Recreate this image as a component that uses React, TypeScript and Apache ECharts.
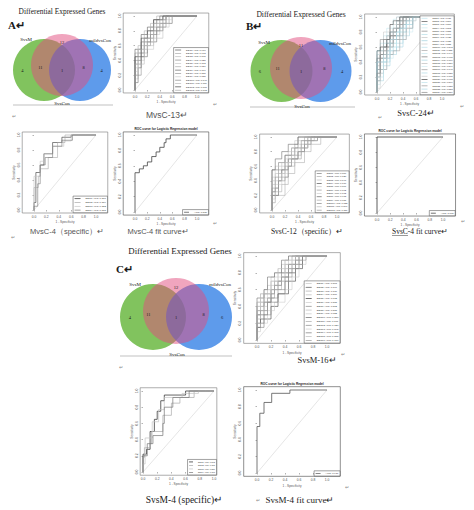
import React, { useEffect, useRef } from "react";
import * as echarts from "echarts";

type Pt = [number, number];

// ---------- DATA ----------
const TICKS = [0, 0.2, 0.4, 0.6, 0.8, 1];

// Venn diagrams: region counts [pinkOnly, greenOnly, green∩pink, center, pink∩blue, blueOnly]
const VENN_SETS = ["SvsM", "mildvsCon", "SvsCon"];
const VENN_A_COUNTS = ["12", "4", "11", "1", "8", "4"];
const VENN_B_COUNTS = ["11", "6", "11", "1", "8", "4"];
const VENN_C_COUNTS = ["12", "4", "11", "1", "8", "6"];

// ROC knots [1-specificity, sensitivity] (vertical step first, then horizontal)
const A1_CURVES: Pt[][] = [
  [[0, 0], [0.1, 0.55], [0.2, 0.75], [0.3, 0.85], [0.4, 0.95], [0.5, 1], [1, 1]],
  [[0, 0], [0.05, 0.45], [0.15, 0.6], [0.25, 0.8], [0.35, 0.9], [0.55, 1], [1, 1]],
  [[0, 0], [0.05, 0.3], [0.1, 0.5], [0.2, 0.65], [0.3, 0.75], [0.45, 0.9], [0.6, 1], [1, 1]],
  [[0, 0], [0.1, 0.2], [0.15, 0.45], [0.25, 0.6], [0.35, 0.8], [0.5, 0.95], [0.65, 1], [1, 1]],
  [[0, 0], [0.05, 0.15], [0.15, 0.4], [0.3, 0.55], [0.4, 0.75], [0.55, 0.85], [0.7, 1], [1, 1]],
  [[0, 0], [0.1, 0.35], [0.2, 0.5], [0.25, 0.7], [0.4, 0.85], [0.5, 0.9], [0.6, 1], [1, 1]],
  [[0, 0], [0.05, 0.1], [0.1, 0.3], [0.2, 0.45], [0.35, 0.65], [0.45, 0.8], [0.6, 0.9], [0.75, 1], [1, 1]],
  [[0, 0], [0.15, 0.5], [0.3, 0.7], [0.4, 0.8], [0.45, 0.9], [0.55, 1], [1, 1]],
  [[0, 0], [0.05, 0.25], [0.2, 0.55], [0.3, 0.65], [0.4, 0.85], [0.6, 0.95], [0.65, 1], [1, 1]],
  [[0, 0], [0.1, 0.4], [0.25, 0.65], [0.35, 0.75], [0.5, 0.85], [0.6, 1], [1, 1]],
  [[0, 0], [0.05, 0.2], [0.15, 0.35], [0.3, 0.6], [0.45, 0.7], [0.55, 0.9], [0.7, 1], [1, 1]],
  [[0, 0], [0.1, 0.45], [0.2, 0.7], [0.3, 0.8], [0.45, 0.95], [0.6, 1], [1, 1]],
  [[0, 0], [0.05, 0.35], [0.15, 0.55], [0.3, 0.7], [0.4, 0.9], [0.5, 0.95], [0.55, 1], [1, 1]],
];
const A2_CURVES: Pt[][] = [
  [[0, 0], [0.03, 0.1], [0.1, 0.5], [0.16, 0.6], [0.3, 0.75], [0.45, 0.9], [0.6, 0.97], [0.83, 1], [1, 1]],
  [[0, 0], [0.07, 0.3], [0.1, 0.45], [0.23, 0.55], [0.38, 0.7], [0.5, 0.9], [0.8, 1], [1, 1]],
  [[0, 0], [0.1, 0.45], [0.16, 0.65], [0.3, 0.75], [0.48, 0.85], [0.6, 0.92], [0.75, 1], [1, 1]],
  [[0, 0], [0.06, 0.05], [0.1, 0.35], [0.18, 0.6], [0.3, 0.7], [0.45, 0.85], [0.62, 0.93], [0.72, 1], [1, 1]],
];
const A3_CURVE: Pt[] = [[0, 0], [0.07, 0.51], [0.135, 0.56], [0.2, 0.6], [0.27, 0.65], [0.34, 0.72], [0.4, 0.78], [0.47, 0.84], [0.5, 0.9], [0.57, 0.95], [1, 1]];

const B1_CURVES: Pt[][] = [
  [[0, 0], [0.05, 0.55], [0.1, 0.65], [0.15, 0.75], [0.25, 0.85], [0.3, 0.97], [0.35, 1], [1, 1]],
  [[0, 0], [0.05, 0.3], [0.1, 0.5], [0.2, 0.6], [0.3, 0.75], [0.4, 0.85], [0.5, 1], [1, 1]],
  [[0, 0], [0.1, 0.45], [0.15, 0.6], [0.25, 0.7], [0.35, 0.8], [0.45, 0.95], [0.55, 1], [1, 1]],
  [[0, 0], [0.05, 0.1], [0.1, 0.35], [0.2, 0.5], [0.3, 0.65], [0.4, 0.75], [0.5, 0.9], [0.6, 1], [1, 1]],
  [[0, 0], [0.05, 0.4], [0.15, 0.55], [0.2, 0.7], [0.3, 0.8], [0.35, 0.9], [0.45, 1], [1, 1]],
  [[0, 0], [0.1, 0.25], [0.15, 0.4], [0.25, 0.55], [0.35, 0.7], [0.45, 0.8], [0.55, 0.9], [0.6, 1], [1, 1]],
  [[0, 0], [0.05, 0.5], [0.1, 0.6], [0.2, 0.8], [0.3, 0.9], [0.4, 1], [1, 1]],
  [[0, 0], [0.1, 0.15], [0.2, 0.35], [0.3, 0.5], [0.4, 0.6], [0.5, 0.75], [0.55, 0.85], [0.6, 1], [1, 1]],
  [[0, 0], [0.05, 0.2], [0.15, 0.45], [0.25, 0.65], [0.35, 0.75], [0.45, 0.9], [0.5, 1], [1, 1]],
  [[0, 0], [0.1, 0.55], [0.2, 0.65], [0.25, 0.8], [0.35, 0.85], [0.4, 0.95], [0.45, 1], [1, 1]],
  [[0, 0], [0.05, 0.35], [0.1, 0.45], [0.2, 0.55], [0.3, 0.7], [0.4, 0.9], [0.55, 1], [1, 1]],
  [[0, 0], [0.15, 0.3], [0.25, 0.45], [0.35, 0.6], [0.45, 0.7], [0.55, 0.8], [0.6, 0.95], [0.65, 1], [1, 1]],
  [[0, 0], [0.05, 0.45], [0.15, 0.7], [0.25, 0.75], [0.3, 0.85], [0.4, 0.95], [0.5, 1], [1, 1]],
  [[0, 0], [0.1, 0.3], [0.2, 0.4], [0.3, 0.55], [0.4, 0.65], [0.45, 0.8], [0.55, 0.9], [0.6, 1], [1, 1]],
  [[0, 0], [0.05, 0.25], [0.1, 0.4], [0.2, 0.6], [0.25, 0.7], [0.35, 0.85], [0.45, 0.95], [0.5, 1], [1, 1]],
  [[0, 0], [0.1, 0.5], [0.15, 0.65], [0.2, 0.75], [0.3, 0.8], [0.35, 0.95], [0.4, 1], [1, 1]],
  [[0, 0], [0.05, 0.15], [0.15, 0.3], [0.25, 0.5], [0.35, 0.55], [0.45, 0.7], [0.55, 0.85], [0.6, 1], [1, 1]],
  [[0, 0], [0.15, 0.4], [0.2, 0.55], [0.3, 0.65], [0.35, 0.8], [0.45, 0.85], [0.5, 0.95], [0.55, 1], [1, 1]],
  [[0, 0], [0.05, 0.05], [0.1, 0.25], [0.2, 0.45], [0.25, 0.6], [0.4, 0.7], [0.5, 0.85], [0.6, 0.95], [0.65, 1], [1, 1]],
  [[0, 0], [0.05, 0.55], [0.15, 0.6], [0.2, 0.7], [0.25, 0.9], [0.35, 0.95], [0.4, 1], [1, 1]],
  [[0, 0], [0.1, 0.2], [0.2, 0.5], [0.3, 0.6], [0.4, 0.8], [0.5, 0.9], [0.55, 1], [1, 1]],
  [[0, 0], [0.05, 0.3], [0.15, 0.5], [0.25, 0.6], [0.35, 0.7], [0.4, 0.75], [0.5, 0.95], [0.55, 1], [1, 1]],
  [[0, 0], [0.1, 0.4], [0.2, 0.45], [0.3, 0.7], [0.35, 0.75], [0.45, 0.85], [0.55, 0.95], [0.6, 1], [1, 1]],
  [[0, 0], [0.05, 0.25], [0.1, 0.5], [0.2, 0.7], [0.3, 0.8], [0.35, 0.85], [0.45, 1], [1, 1]],
];
const B2_CURVES: Pt[][] = [
  [[0, 0], [0.1, 0.55], [0.2, 0.65], [0.3, 0.75], [0.4, 0.85], [0.5, 1], [1, 1]],
  [[0, 0], [0.2, 0.2], [0.25, 0.45], [0.35, 0.6], [0.45, 0.75], [0.55, 0.85], [0.65, 0.95], [0.7, 1], [1, 1]],
  [[0, 0], [0.05, 0.35], [0.15, 0.5], [0.25, 0.65], [0.35, 0.8], [0.5, 0.9], [0.6, 1], [1, 1]],
  [[0, 0], [0.1, 0.2], [0.15, 0.4], [0.25, 0.55], [0.4, 0.7], [0.5, 0.8], [0.6, 0.9], [0.8, 1], [1, 1]],
  [[0, 0], [0.05, 0.45], [0.2, 0.6], [0.3, 0.7], [0.35, 0.85], [0.5, 0.95], [0.55, 1], [1, 1]],
  [[0, 0], [0.1, 0.3], [0.2, 0.4], [0.3, 0.6], [0.45, 0.7], [0.55, 0.85], [0.7, 0.95], [0.75, 1], [1, 1]],
  [[0, 0], [0.05, 0.15], [0.15, 0.35], [0.25, 0.5], [0.35, 0.65], [0.45, 0.8], [0.6, 0.9], [0.65, 1], [1, 1]],
  [[0, 0], [0.05, 0.55], [0.15, 0.7], [0.25, 0.8], [0.4, 0.9], [0.45, 1], [1, 1]],
  [[0, 0], [0.15, 0.25], [0.25, 0.35], [0.35, 0.5], [0.5, 0.65], [0.6, 0.8], [0.75, 0.9], [0.9, 1], [1, 1]],
  [[0, 0], [0.05, 0.25], [0.1, 0.45], [0.2, 0.55], [0.35, 0.75], [0.45, 0.85], [0.55, 0.95], [0.6, 1], [1, 1]],
  [[0, 0], [0.1, 0.4], [0.2, 0.5], [0.3, 0.65], [0.4, 0.75], [0.55, 0.85], [0.65, 1], [1, 1]],
  [[0, 0], [0.05, 0.1], [0.1, 0.3], [0.25, 0.45], [0.3, 0.6], [0.4, 0.7], [0.5, 0.8], [0.7, 0.95], [0.8, 1], [1, 1]],
];
const B3_CURVE: Pt[] = [[0, 0], [0, 1], [1, 1]];

const C1_CURVES: Pt[][] = [
  [[0, 0], [0.05, 0.4], [0.15, 0.55], [0.2, 0.65], [0.3, 0.75], [0.4, 0.85], [0.5, 0.95], [0.6, 1], [1, 1]],
  [[0, 0], [0.1, 0.3], [0.2, 0.45], [0.3, 0.6], [0.35, 0.7], [0.45, 0.8], [0.55, 0.9], [0.65, 1], [1, 1]],
  [[0, 0], [0.05, 0.2], [0.15, 0.35], [0.25, 0.5], [0.35, 0.65], [0.5, 0.8], [0.6, 0.9], [0.7, 1], [1, 1]],
  [[0, 0], [0.1, 0.45], [0.2, 0.6], [0.25, 0.7], [0.35, 0.8], [0.45, 0.9], [0.55, 1], [1, 1]],
  [[0, 0], [0.05, 0.15], [0.2, 0.25], [0.3, 0.4], [0.45, 0.55], [0.55, 0.7], [0.65, 0.85], [0.75, 1], [1, 1]],
  [[0, 0], [0.1, 0.35], [0.15, 0.5], [0.3, 0.6], [0.4, 0.75], [0.5, 0.85], [0.6, 0.95], [0.65, 1], [1, 1]],
  [[0, 0], [0.05, 0.3], [0.1, 0.4], [0.25, 0.55], [0.35, 0.7], [0.45, 0.75], [0.55, 0.9], [0.6, 1], [1, 1]],
  [[0, 0], [0.15, 0.4], [0.25, 0.5], [0.35, 0.65], [0.4, 0.8], [0.5, 0.9], [0.7, 1], [1, 1]],
  [[0, 0], [0.05, 0.1], [0.15, 0.2], [0.25, 0.35], [0.4, 0.45], [0.5, 0.6], [0.6, 0.75], [0.7, 0.9], [0.8, 1], [1, 1]],
  [[0, 0], [0.1, 0.5], [0.15, 0.6], [0.25, 0.75], [0.35, 0.8], [0.45, 0.95], [0.5, 1], [1, 1]],
  [[0, 0], [0.05, 0.25], [0.15, 0.45], [0.2, 0.5], [0.35, 0.6], [0.45, 0.7], [0.55, 0.8], [0.65, 0.95], [0.7, 1], [1, 1]],
  [[0, 0], [0.1, 0.2], [0.2, 0.3], [0.3, 0.5], [0.4, 0.6], [0.5, 0.75], [0.6, 0.85], [0.75, 1], [1, 1]],
  [[0, 0], [0.05, 0.35], [0.1, 0.5], [0.2, 0.55], [0.3, 0.7], [0.4, 0.85], [0.55, 0.95], [0.6, 1], [1, 1]],
  [[0, 0], [0.1, 0.15], [0.15, 0.3], [0.3, 0.45], [0.4, 0.55], [0.45, 0.7], [0.55, 0.8], [0.65, 0.9], [0.7, 1], [1, 1]],
  [[0, 0], [0.05, 0.45], [0.2, 0.55], [0.3, 0.65], [0.4, 0.7], [0.5, 0.85], [0.6, 0.9], [0.65, 1], [1, 1]],
  [[0, 0], [0.15, 0.35], [0.2, 0.45], [0.25, 0.55], [0.35, 0.65], [0.45, 0.75], [0.55, 0.85], [0.7, 0.95], [0.75, 1], [1, 1]],
];
const C2_CURVES: Pt[][] = [
  [[0, 0], [0.05, 0.22], [0.1, 0.28], [0.16, 0.5], [0.2, 0.65], [0.25, 0.75], [0.3, 0.88], [0.6, 0.95], [0.88, 1], [1, 1]],
  [[0, 0], [0.02, 0.18], [0.1, 0.3], [0.12, 0.35], [0.28, 0.5], [0.4, 0.7], [0.52, 0.85], [0.72, 0.92], [0.82, 1], [1, 1]],
  [[0, 0], [0.03, 0.1], [0.13, 0.42], [0.22, 0.62], [0.3, 0.77], [0.55, 0.92], [0.78, 0.97], [0.92, 1], [1, 1]],
  [[0, 0], [0.06, 0.2], [0.14, 0.35], [0.28, 0.45], [0.3, 0.6], [0.42, 0.8], [0.65, 0.92], [0.95, 1], [1, 1]],
];
const C3_CURVE: Pt[] = [[0, 0], [0.04, 0.56], [0.1, 0.72], [0.21, 0.85], [0.47, 0.96], [1, 1]];

// ---------- LAYOUT / STYLE ----------
const W = 474;
const H = 510;

const A1_COLORS = ["#555", "#aaa", "#bbb", "#888", "#c8c8c8", "#aaa", "#666", "#999", "#ccc", "#888", "#bbb", "#444", "#aaa"];
const A2_COLORS = ["#333", "#aaa", "#c4c4c4", "#777"];
const B1_COLORS = ["#bde3ec", "#555", "#a9d6e2", "#c8e8ef", "#888", "#b3dde7", "#c4c4c4", "#9fcfdc", "#666", "#b8e0ea", "#aaa", "#c6e6ee", "#777", "#a6d4e0", "#bbb", "#cfeaf0", "#999", "#b0dae5", "#c8c8c8", "#444", "#bfe3eb", "#999", "#acd7e3", "#888"];
const B2_COLORS = ["#777", "#aaa", "#bbb", "#555", "#c4c4c4", "#999", "#ccc", "#666", "#aaa", "#888", "#bbb", "#999"];
const C1_COLORS = ["#c4c4c4", "#555", "#aaa", "#bbb", "#333", "#ccc", "#888", "#bbb", "#c8c8c8", "#666", "#aaa", "#888", "#ccc", "#777", "#bbb", "#999"];
const C2_COLORS = ["#222", "#aaa", "#c4c4c4", "#777"];

function aucOf(c: Pt[]) {
  let a = 0;
  for (let i = 1; i < c.length; i++) a += (c[i][0] - c[i - 1][0]) * c[i][1];
  return a;
}

type Panel = {
  x0: number; x1: number; y0: number; y1: number; xpad: number;
  curves: Pt[][]; colors: string[]; lw: number; fit?: boolean;
  lh: number; gap: number; fs: number; iw: number;
};

const PANELS: Panel[] = [
  { x0: 135, x1: 197, y0: 90, y1: 16, xpad: 0.19, curves: A1_CURVES, colors: A1_COLORS, lw: 0.55, lh: 2.9, gap: 0.45, fs: 2.4, iw: 6 },
  { x0: 34, x1: 96, y0: 210, y1: 135, xpad: 0.19, curves: A2_CURVES, colors: A2_COLORS, lw: 0.6, lh: 3.2, gap: 0.6, fs: 2.5, iw: 6 },
  { x0: 135, x1: 197, y0: 212, y1: 135, xpad: 0.19, curves: [A3_CURVE], colors: ["#444"], lw: 0.8, fit: true, lh: 3.2, gap: 0, fs: 2.5, iw: 5 },
  { x0: 377, x1: 442, y0: 92, y1: 17, xpad: 0.19, curves: B1_CURVES, colors: B1_COLORS, lw: 0.5, lh: 2.8, gap: 0.42, fs: 2.3, iw: 6 },
  { x0: 272, x1: 337, y0: 210, y1: 137, xpad: 0.19, curves: B2_CURVES, colors: B2_COLORS, lw: 0.55, lh: 2.9, gap: 0.45, fs: 2.4, iw: 5 },
  { x0: 377, x1: 443, y0: 213, y1: 137, xpad: 0.19, curves: [B3_CURVE], colors: ["#333"], lw: 0.8, fit: true, lh: 3.2, gap: 0, fs: 2.5, iw: 5 },
  { x0: 257, x1: 327, y0: 340, y1: 256, xpad: 0.19, curves: C1_CURVES, colors: C1_COLORS, lw: 0.55, lh: 3.2, gap: 0.6, fs: 2.5, iw: 6 },
  { x0: 143, x1: 214, y0: 472, y1: 391, xpad: 0.04, curves: C2_CURVES, colors: C2_COLORS, lw: 0.7, lh: 3.0, gap: 0.5, fs: 2.1, iw: 4 },
  { x0: 257, x1: 327, y0: 473, y1: 390, xpad: 0.19, curves: [C3_CURVE], colors: ["#555"], lw: 0.8, fit: true, lh: 3.2, gap: 0, fs: 2.5, iw: 5 },
];

const SERIF = "Liberation Serif, Times New Roman, serif";
const SANS = "Liberation Sans, Arial, sans-serif";
const NARROW = "Liberation Sans Narrow, Arial Narrow, Liberation Sans, sans-serif";

function txt(text: string, x: number, y: number, size: number, o: any = {}) {
  return {
    type: "text",
    x,
    y,
    z: 20,
    style: {
      text,
      fontSize: size,
      fontFamily: o.font || SERIF,
      fontWeight: o.bold ? "bold" : "normal",
      fill: o.fill || "#1a1a1a",
      align: o.align || "center",
      textAlign: o.align || "center",
      verticalAlign: "middle",
      textVerticalAlign: "middle",
    },
  };
}

function venn(cx: number, cy: number, r: number, dx: number, pinkDy: number, counts: string[], lab: any) {
  const gx = cx - dx, bx = cx + dx;
  const els: any[] = [
    { type: "circle", z: 1, shape: { cx: gx, cy, r }, style: { fill: "rgba(76,169,26,0.7)" } },
    { type: "circle", z: 2, shape: { cx: bx, cy, r }, style: { fill: "rgba(26,112,226,0.7)" } },
    { type: "circle", z: 3, shape: { cx, cy: cy + pinkDy, r }, style: { fill: "rgba(225,75,125,0.5)" } },
  ];
  const pos: Pt[] = [
    [cx, cy + pinkDy - r * 0.72],
    [gx - r * 0.7, cy],
    [cx - dx * 1.2, cy - 3],
    [cx, cy],
    [cx + dx * 1.2, cy - 3],
    [bx + r * 0.7, cy],
  ];
  counts.forEach((c, i) => els.push(txt(c, pos[i][0], pos[i][1], 4.5)));
  els.push(txt(VENN_SETS[0], lab.s[0], lab.s[1], 5));
  els.push(txt(VENN_SETS[1], lab.m[0], lab.m[1], 5));
  els.push(txt(VENN_SETS[2], lab.c[0], lab.c[1], 5));
  els.push({ type: "line", z: 5, shape: { x1: lab.line[0], y1: lab.line[2], x2: lab.line[1], y2: lab.line[2] }, style: { stroke: "#999", lineWidth: 0.6 } });
  return els;
}

function buildOption() {
  const grid: any[] = [];
  const xAxis: any[] = [];
  const yAxis: any[] = [];
  const series: any[] = [];
  const legend: any[] = [];
  const graphic: any[] = [];

  PANELS.forEach((p, i) => {
    const ux = p.x1 - p.x0;
    const uy = p.y0 - p.y1;
    const left = p.x0 - p.xpad * ux;
    const right = p.x1 + p.xpad * ux;
    const top = p.y1 - 0.04 * uy;
    const bottom = p.y0 + 0.04 * uy;
    grid.push({
      left, top, width: right - left, height: bottom - top,
      show: true, borderColor: p.fit ? "#444" : "#777", borderWidth: 0.6, backgroundColor: "transparent",
    });
    const tickCommon = { show: true, customValues: TICKS, length: 1.5, lineStyle: { color: "#666", width: 0.5 } };
    xAxis.push({
      type: "value", gridIndex: i, min: -p.xpad, max: 1 + p.xpad,
      axisLine: { show: false }, splitLine: { show: false },
      axisTick: tickCommon,
      axisLabel: { customValues: TICKS, formatter: (v: number) => v.toFixed(1), fontSize: 3.3, margin: 2, color: "#555", fontFamily: SANS },
      name: "1 - Specificity", nameLocation: "middle", nameGap: 7.5,
      nameTextStyle: { fontSize: 3.2, color: "#555", fontFamily: SANS },
    });
    yAxis.push({
      type: "value", gridIndex: i, min: -0.04, max: 1.04,
      axisLine: { show: false }, splitLine: { show: false },
      axisTick: tickCommon,
      axisLabel: { customValues: TICKS, formatter: (v: number) => v.toFixed(1), fontSize: 3.3, margin: 2, color: "#555", rotate: 90, fontFamily: SANS },
      name: "Sensitivity", nameLocation: "middle", nameGap: 7,
      nameTextStyle: { fontSize: 3.2, color: "#555", fontFamily: SANS },
    });
    series.push({
      type: "line", name: "ref-diagonal-" + i, xAxisIndex: i, yAxisIndex: i,
      data: [[0, 0], [1, 1]], symbol: "none", silent: true, z: 1,
      color: "#d4d4d4", lineStyle: { color: "#d4d4d4", width: 0.6 },
    });
    const names: string[] = [];
    p.curves.forEach((c, j) => {
      const auc = aucOf(c);
      const name = p.fit ? `AUC: ${auc.toFixed(3)}` : `DEG${j + 1} AUC: ${auc.toFixed(3)}`;
      names.push(name);
      const col = p.colors[j % p.colors.length];
      series.push({
        type: "line", name, xAxisIndex: i, yAxisIndex: i, data: c, step: "start",
        symbol: "none", color: col, lineStyle: { color: col, width: p.lw }, z: 2,
      });
    });
    legend.push({
      show: true, orient: "vertical", data: names,
      right: W - right + 0.3, bottom: H - bottom + 0.3,
      icon: "rect", itemWidth: p.iw, itemHeight: 0.7, itemGap: p.gap,
      padding: [1, 1.5, 1, 1.5], backgroundColor: "#fff", borderColor: "#444", borderWidth: 0.5,
      selectedMode: false, align: "left",
      textStyle: { fontSize: p.fs, lineHeight: p.lh, color: "#333", fontFamily: SANS },
    });
    if (p.fit) {
      graphic.push(txt("ROC curve for Logistic Regression model", (left + right) / 2, top - 3, 3.2, { font: SANS, bold: true }));
    }
  });

  // Section titles and letters
  graphic.push(txt("Differential Expressed Genes", 62, 11, 7.4));
  graphic.push(txt("Differential Expressed Genes", 301, 14, 7.6));
  graphic.push(txt("Differential Expressed Genes", 180, 251, 8.8));
  graphic.push(txt("A↵", 8, 25, 11, { bold: true, align: "left" }));
  graphic.push(txt("B↵", 246, 26, 11, { bold: true, align: "left" }));
  graphic.push(txt("C↵", 116, 269, 11, { bold: true, align: "left" }));

  // Venn diagrams
  graphic.push(...venn(62, 70, 31, 18, -5, VENN_A_COUNTS, { s: [26, 39], m: [100, 40], c: [62, 103], line: [13, 113, 105] }));
  graphic.push(...venn(301, 71, 31, 19.5, -3, VENN_B_COUNTS, { s: [264, 42], m: [340, 43], c: [302, 106], line: [250, 355, 107] }));
  graphic.push(...venn(176, 317, 33, 23, -6, VENN_C_COUNTS, { s: [135, 284], m: [220, 284], c: [177, 354], line: [120, 232, 356] }));

  // Captions
  graphic.push(txt("MvsC-13↵", 167, 115, 8.5, { font: SANS, fill: "#555" }));
  graphic.push(txt("MvsC-4（specific）↵", 67, 231, 7.5, { font: NARROW, fill: "#555" }));
  graphic.push(txt("MvsC-4 fit curve↵", 158, 231, 7.5, { font: NARROW, fill: "#555" }));
  graphic.push(txt("SvsC-24↵", 416, 113, 8.5));
  graphic.push(txt("SvsC-12（specific）↵", 307, 231, 7.5));
  graphic.push(txt("SvsC-4 fit curve↵", 392, 231, 7.5, { align: "left" }));
  graphic.push({ type: "line", z: 20, shape: { x1: 392, y1: 235.5, x2: 408, y2: 235.5 }, style: { stroke: "#333", lineWidth: 0.5 } });
  graphic.push(txt("SvsM-16↵", 317, 360, 8.5));
  graphic.push(txt("SvsM-4 (specific)↵", 184, 500, 9.5));
  graphic.push(txt("SvsM-4 fit curve↵", 300, 500, 9));

  // paragraph marks
  const marks: Pt[] = [[14, 116], [215, 104], [13, 237], [215, 223], [380, 117], [462, 106], [463, 221], [121, 367], [343, 354], [347, 487], [258, 500]];
  marks.forEach((m) => graphic.push(txt("↵", m[0], m[1], 5, { fill: "#888", font: SANS })));

  return {
    animation: false,
    backgroundColor: "#fff",
    grid, xAxis, yAxis, series, legend, graphic,
  };
}

export default function App() {
  const ref = useRef<HTMLDivElement>(null);
  useEffect(() => {
    if (!ref.current) return;
    const chart = echarts.init(ref.current, undefined, { renderer: "svg" });
    chart.setOption(buildOption() as any);
    return () => chart.dispose();
  }, []);
  return <div ref={ref} style={{ position: "fixed", left: 0, top: 0, width: W, height: H }} />;
}
